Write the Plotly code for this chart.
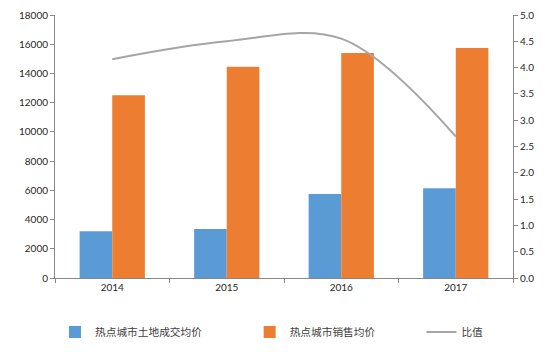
import plotly.graph_objects as go

years = ["2014", "2015", "2016", "2017"]
land_price = [3200, 3350, 5750, 6150]
sale_price = [12500, 14450, 15400, 15750]
ratio = [4.16, 4.50, 4.55, 2.69]

font_fam = "Lato, Noto Sans CJK SC, sans-serif"
fig = go.Figure()
fig.add_trace(go.Bar(x=years, y=land_price, name="热点城市土地成交均价", showlegend=True,
                     marker=dict(color="#5B9BD5", line=dict(width=0))))
fig.add_trace(go.Bar(x=years, y=sale_price, name="热点城市销售均价", legend="legend2", showlegend=True,
                     marker=dict(color="#ED7D31", line=dict(width=0))))
fig.add_trace(go.Scatter(x=years, y=ratio, name="比值", yaxis="y2", mode="lines", legend="legend3",
                         showlegend=True,
                         line=dict(color="#A5A5A5", width=2, shape="spline", smoothing=1.0)))

leg_common = dict(orientation="h", yanchor="middle", y=-0.205, xanchor="left",
                  font=dict(size=10.7, color="#404040", family="Noto Sans CJK SC, sans-serif"),
                  itemwidth=30, bgcolor="rgba(0,0,0,0)")

fig.update_layout(
    width=554, height=352, showlegend=True,
    margin=dict(l=55, r=41, t=15, b=74, autoexpand=False),
    paper_bgcolor="white", plot_bgcolor="white",
    barmode="group", bargap=0.43, bargroupgap=0,
    font=dict(family=font_fam, size=10, color="#404040"),
    xaxis=dict(type="category", tickson="boundaries", ticks="outside", ticklen=4,
               tickcolor="#888888", showline=True, linecolor="#888888", linewidth=1,
               showgrid=False, tickfont=dict(size=10, color="#262626")),
    yaxis=dict(range=[0, 18000], dtick=2000, tickformat="d", showline=True, linecolor="#888888",
               ticks="outside", ticklen=4, tickcolor="#888888", showgrid=False,
               zeroline=False, tickfont=dict(size=10, color="#262626")),
    yaxis2=dict(range=[0, 5], dtick=0.5, tickformat=".1f", overlaying="y", side="right",
                showline=True, linecolor="#888888", ticks="outside", ticklen=4,
                tickcolor="#888888", showgrid=False, zeroline=False,
                tickfont=dict(size=10, color="#262626")),
    legend=dict(leg_common, x=0.0),
    legend2=dict(leg_common, x=0.425),
    legend3=dict(leg_common, x=0.80),
)
fig.write_html("out.html")
